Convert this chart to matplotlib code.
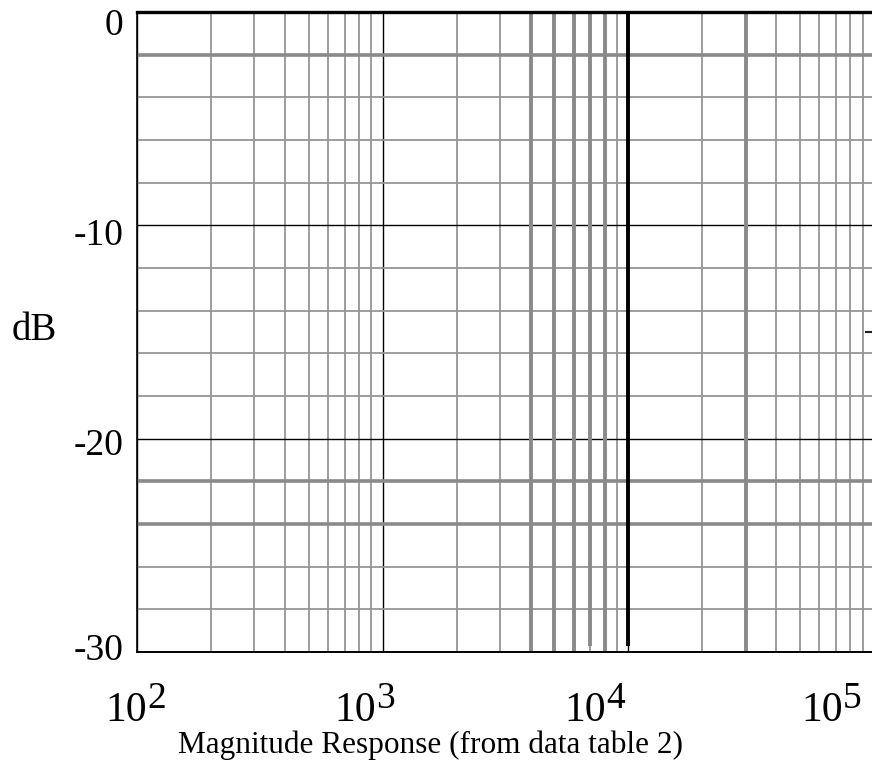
import numpy as np
import matplotlib
matplotlib.use("Agg")
import matplotlib.pyplot as plt
from matplotlib.ticker import LogLocator, MultipleLocator, NullFormatter

# ---- data ----
x_range = [1e2, 1e5]
y_range = [-30, 0]
x_decades = [1e2, 1e3, 1e4, 1e5]
x_exponents = ["2", "3", "4", "5"]
y_ticks = [0, -10, -20, -30]
y_tick_labels = ["0", "-10", "-20", "-30"]
y_minor_step = 2

# traces visible as emphasised lines
thick_gray_freqs = [4e3, 5e3, 6e3, 8e3, 3e4]          # full-height gray lines
short_gray_freqs = [7e3]                               # gray line stopping short
short_black_freqs = [1e4]                              # black line stopping short
short_line_db = [0, -29.7]                             # span of the short lines
thick_gray_levels = [-2, -22, -24]                     # emphasised horizontal lines
right_mark_db = [-15]
right_mark_x = [9.2e4, 1e5]

title = "Magnitude Response (from data table 2)"
ylabel = "dB"

# ---- layout / styling ----
W, H = 872, 764
fig = plt.figure(figsize=(W / 100, H / 100), dpi=100)
L, R, T, B = 137, 874, 12, 652
ax = fig.add_axes([L / W, (H - B) / H, (R - L) / W, (B - T) / H])
ax.set_xscale("log")
ax.set_xlim(*x_range)
ax.set_ylim(*y_range)

serif = ["Liberation Serif", "DejaVu Serif"]
gray = "#959595"

ax.xaxis.set_major_locator(LogLocator(base=10, numticks=10))
ax.xaxis.set_minor_locator(LogLocator(base=10, subs=np.arange(2, 10), numticks=20))
ax.yaxis.set_major_locator(MultipleLocator(10))
ax.yaxis.set_minor_locator(MultipleLocator(y_minor_step))
ax.xaxis.set_major_formatter(NullFormatter())
ax.xaxis.set_minor_formatter(NullFormatter())
ax.yaxis.set_major_formatter(NullFormatter())
ax.tick_params(which="both", length=0)

ax.grid(which="minor", color=gray, lw=1.3, zorder=1)
ax.grid(which="major", color="black", lw=1.0, zorder=2)
ax.set_axisbelow(True)

for f in thick_gray_freqs:
    ax.axvline(f, color="#8a8a8a", lw=2.8, zorder=3)
for lev in thick_gray_levels:
    ax.axhline(lev, color="#8a8a8a", lw=2.6, zorder=3)
ax.vlines(short_gray_freqs, short_line_db[1], short_line_db[0], color="#8a8a8a", lw=2.8, zorder=3)
ax.vlines(short_black_freqs, short_line_db[1], short_line_db[0], color="black", lw=2.8, zorder=4)
ax.hlines(right_mark_db, right_mark_x[0], right_mark_x[1], color="#222222", lw=1.5, zorder=4)

ax.spines["right"].set_visible(False)
ax.spines["top"].set_linewidth(2.4)
ax.spines["left"].set_linewidth(1.2)
ax.spines["bottom"].set_linewidth(1.4)
for s in ax.spines.values():
    s.set_zorder(5)

# y tick labels (baseline offsets in pixels below each gridline)
y_base_off = [23, 20, 16, 8]
for v, lab, off in zip(y_ticks, y_tick_labels, y_base_off):
    ax.annotate(lab, xy=(0, v), xycoords=("axes fraction", "data"),
                xytext=(-14, -off), textcoords="offset pixels",
                ha="right", va="baseline", fontsize=27, family=serif)

# x tick labels "10" + raised exponent
x_off = [10, -7, -22, -31]
for d, e, off in zip(x_decades, x_exponents, x_off):
    ax.annotate("10", xy=(d, 0), xycoords=("data", "axes fraction"),
                xytext=(off, -69), textcoords="offset pixels",
                ha="right", va="baseline", fontsize=30, family=serif,
                annotation_clip=False)
    ax.annotate(e, xy=(d, 0), xycoords=("data", "axes fraction"),
                xytext=(off, -56), textcoords="offset pixels",
                ha="left", va="baseline", fontsize=27, family=serif,
                annotation_clip=False)

fig.text(34 / W, 1 - 331 / H, ylabel, ha="center", va="center", fontsize=28, family=serif)
fig.text(430 / W, 1 - 745 / H, title, ha="center", va="center", fontsize=22.5, family=serif)

fig.savefig("out.png", dpi=100)
